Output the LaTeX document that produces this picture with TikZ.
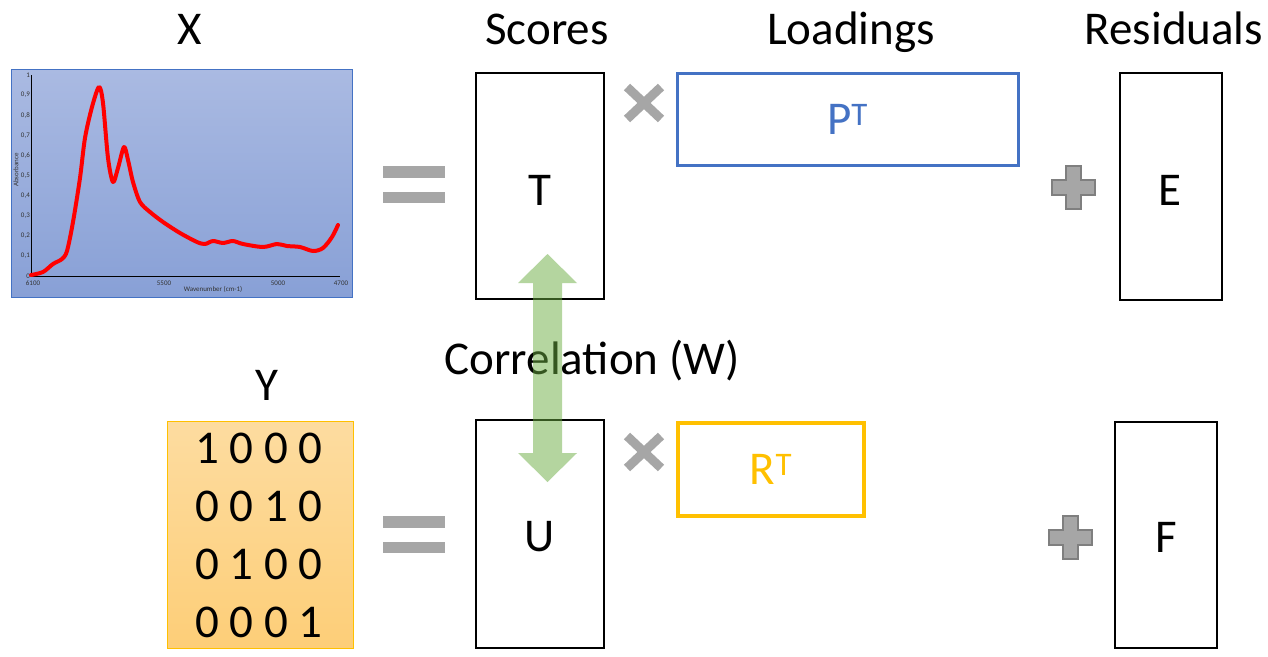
\documentclass[tikz,border=0pt]{standalone}
\usepackage{fontspec}
\setmainfont{Carlito}
\usetikzlibrary{calc}
\definecolor{opgray}{RGB}{166,166,166}
\definecolor{opdgray}{RGB}{127,127,127}
\definecolor{pblue}{RGB}{68,114,196}
\definecolor{rgold}{RGB}{255,192,0}
\definecolor{agreen}{RGB}{107,173,65}
\definecolor{sptop}{RGB}{170,186,226}
\definecolor{spbot}{RGB}{136,160,214}
\definecolor{ytop}{RGB}{253,220,160}
\definecolor{ybot}{RGB}{253,206,120}
\definecolor{ybord}{RGB}{255,192,0}
\begin{document}
\begin{tikzpicture}[x=1pt,y=-1pt,
  big/.style={font=\fontsize{47}{56}\selectfont, inner sep=0pt},
  lbl/.style={big, anchor=base},
  mbox/.style={draw=black, line width=1.3pt, fill=white, inner sep=0pt},
  opbar/.style={fill=opgray, draw=none},
  tiny/.style={font=\fontsize{7}{8}\selectfont, text=black!80, inner sep=1pt}
]
\useasboundingbox (0,0) rectangle (1268,656);

% ---------- headings ----------
\node[lbl] (lx) at (190,44) {X};
\node[lbl] (ls) at (547,44) {Scores};
\node[lbl] (ll) at (851,44) {Loadings};
\node[lbl] (lr) at (1174,44) {Residuals};
\node[lbl] (ly) at (267,400) {Y};

% ---------- spectrum ----------
\node[draw=pblue, line width=0.8pt, top color=sptop, bottom color=spbot,
      minimum width=341, minimum height=228, inner sep=0pt] (spec) at (181.5,183) {};
\draw[black, line width=0.6pt] (31,75) -- (31,276) -- (340,276);
\foreach \i/\t in {0/0,1/{0,1},2/{0,2},3/{0,3},4/{0,4},5/{0,5},6/{0,6},7/{0,7},8/{0,8},9/{0,9},10/1}{
  \node[tiny, anchor=east] at (31,{276-20.1*\i}) {\t};
}
\node[tiny] at (33,283) {6100};
\node[tiny] at (164,283) {5500};
\node[tiny] at (278,283) {5000};
\node[tiny] at (341,283) {4700};
\node[tiny] at (213,289) {Wavenumber (cm-1)};
\node[tiny, rotate=90] at (16,170) {Absorbance};
\draw[red, line width=4pt, line join=round, line cap=round] plot[smooth, tension=0.5] coordinates {
(31,275) (43,272) (53,264) (62,259) (67,251) (73,222) (80,178) (85,138) (92,107) (99,87)
(103,103) (108,158) (113,182) (118,168) (124,147) (128,160) (133,182) (140,202) (150,212)
(163,222) (180,233) (197,242) (205,244) (213,241) (223,243) (233,241) (243,244) (263,247)
(277,244) (287,246) (300,247) (313,251) (323,248) (332,237) (338,225)};

% ---------- Y matrix ----------
\node[draw=ybord, line width=0.8pt, top color=ytop, bottom color=ybot,
      minimum width=186, minimum height=227, inner sep=0pt] (ym) at (260,534.5) {};
\node[lbl] (y1) at (259,463) {1 0 0 0};
\node[lbl] (y2) at (259,521) {0 0 1 0};
\node[lbl] (y3) at (259,579) {0 1 0 0};
\node[lbl] (y4) at (259,637) {0 0 0 1};

% ---------- equals signs ----------
\fill[opbar] (383,166) rectangle (445,178);
\fill[opbar] (383,192) rectangle (445,203);
\fill[opbar] (383,516) rectangle (445,528);
\fill[opbar] (383,542) rectangle (445,553);

% ---------- boxes ----------
\node[mbox, minimum width=128, minimum height=226] (T) at (540,186) {};
\node[mbox, minimum width=128, minimum height=228] (U) at (540,534) {};
\node[mbox, minimum width=102, minimum height=227] (E) at (1171,186.5) {};
\node[mbox, minimum width=102, minimum height=226] (F) at (1166,535) {};
\node[big] (tT) at (540,190) {T};
\node[big] (tU) at (540,537) {U};
\node[big] (tE) at (1170,190) {E};
\node[big] (tF) at (1166,537) {F};
\node[draw=pblue, line width=3pt, minimum width=341, minimum height=92, inner sep=0pt,
      big, text=pblue] (P) at (847.5,119) {P\textsuperscript{T}};
\node[draw=rgold, line width=3.5pt, minimum width=186, minimum height=93, inner sep=0pt,
      big, text=rgold] (R) at (771,469.5) {R\textsuperscript{T}};

% ---------- times signs ----------
\foreach \cx/\cy/\nm in {644/103/m1, 644/452/m2}{
  \coordinate (\nm) at (\cx,\cy);
  \draw[opgray, line width=9pt] ($(\nm)+(-17,-16)$) -- ($(\nm)+(17,16)$);
  \draw[opgray, line width=9pt] ($(\nm)+(17,-16)$) -- ($(\nm)+(-17,16)$);
}

% ---------- plus signs ----------
\foreach \cx/\cy/\nm in {1073/187/p1, 1070/537/p2}{
  \coordinate (\nm) at (\cx,\cy);
  \filldraw[fill=opgray, draw=opdgray, line width=2pt]
    ($(\nm)+(-7.5,-21.5)$) -- ($(\nm)+(7.5,-21.5)$) -- ($(\nm)+(7.5,-7.5)$) -- ($(\nm)+(21.5,-7.5)$)
    -- ($(\nm)+(21.5,7.5)$) -- ($(\nm)+(7.5,7.5)$) -- ($(\nm)+(7.5,21.5)$) -- ($(\nm)+(-7.5,21.5)$)
    -- ($(\nm)+(-7.5,7.5)$) -- ($(\nm)+(-21.5,7.5)$) -- ($(\nm)+(-21.5,-7.5)$) -- ($(\nm)+(-7.5,-7.5)$) -- cycle;
}

% ---------- correlation ----------
\node[lbl] (corr) at (592,374) {Correlation (W)};
\coordinate (atop) at (547.5,254);
\coordinate (abot) at (547.5,482);
\fill[agreen, opacity=0.5]
  (atop) -- ($(atop)+(29.5,29)$) -- ($(atop)+(14.5,29)$) -- ($(abot)+(14.5,-29)$) -- ($(abot)+(29.5,-29)$)
  -- (abot) -- ($(abot)+(-29.5,-29)$) -- ($(abot)+(-14.5,-29)$) -- ($(atop)+(-14.5,29)$) -- ($(atop)+(-29.5,29)$) -- cycle;
\end{tikzpicture}
\end{document}
